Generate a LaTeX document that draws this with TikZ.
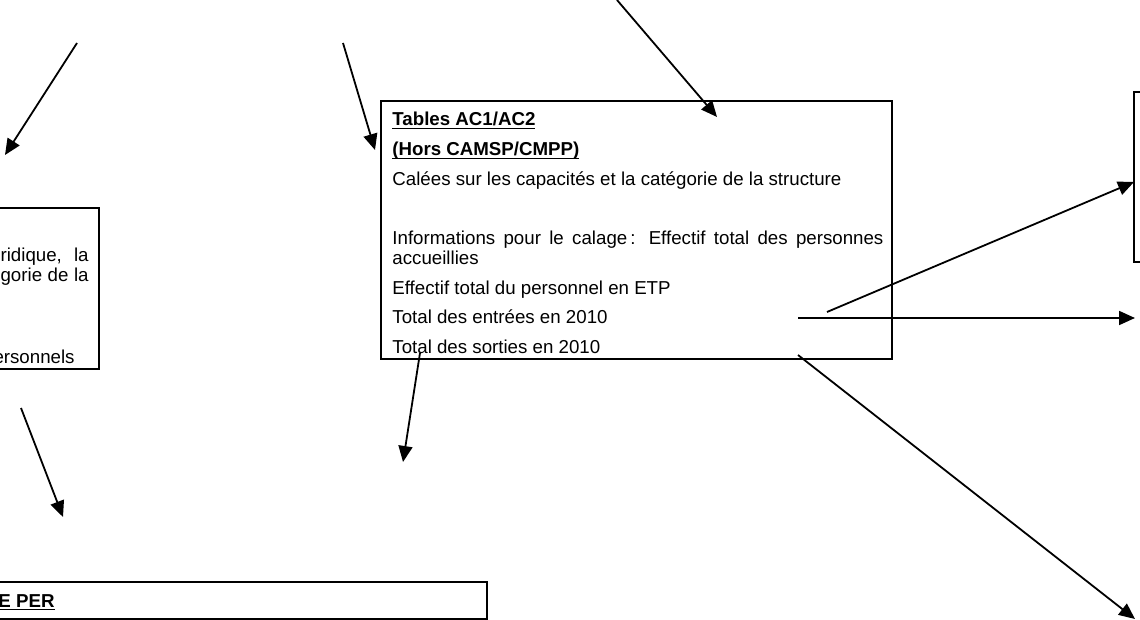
\documentclass[tikz,border=0pt]{standalone}
\usepackage{fontspec}
\setmainfont{Liberation Sans}
\usetikzlibrary{arrows.meta}

\newcommand{\ulbf}[1]{\leavevmode\setbox0\hbox{\bfseries #1}\rlap{\rule[-1.6pt]{\wd0}{0.6pt}}\box0}

\begin{document}
\begin{tikzpicture}[
    x=0.5pt, y=-0.5pt,
    box/.style={rectangle, draw=black, line width=1.1pt, inner sep=0pt},
    txt/.style={inner sep=0pt, font=\fontsize{9.35}{10}\selectfont},
    arrow/.style={-{Triangle[length=8pt, width=7pt]}, line width=0.9pt, draw=black}
]
\useasboundingbox (0,0) rectangle (1140,620);
\clip (0,0) rectangle (1140,620);

% boxes
\node (acbox) [box, minimum width=255.5pt, minimum height=129pt] at (636.5,230) {};
\node (leftbox) [box, minimum width=129.5pt, minimum height=80.5pt] at (-30.5,288.5) {};
\node (perbox) [box, minimum width=393.5pt, minimum height=18.5pt] at (93.5,600.5) {};
\node (rbox) [box, minimum width=83pt, minimum height=85pt] at (1217,177) {};

% texts
\node (actext) [txt, text width=245.5pt, align=justify, anchor=base west] at (392,126) {%
\setlength{\parskip}{4.8pt}\hyphenpenalty=10000 \tolerance=9999
\ulbf{Tables AC1/AC2}\par
\ulbf{(Hors CAMSP/CMPP)}\par
Calées sur les capacités et la catégorie de la structure\par
\vspace{15pt}Informations pour le calage\,: Effectif total des personnes accueillies\par
Effectif total du personnel en ETP\par
Total des entrées en 2010\par
Total des sorties en 2010};
\node (jurid) [txt, anchor=base east] at (89,262) {\makebox[44pt][s]{ridique, la}};
\node (categ) [txt, anchor=base east] at (89,281) {\makebox[44pt][s]{gorie de la}};
\node (perso) [txt, anchor=base east] at (75,363) {ersonnels};
\node (pertitle) [txt, anchor=base east] at (55,607) {\ulbf{E PER}};

% arrow ends
\coordinate (s1) at (77,43);   \coordinate (t1) at (5,155);
\coordinate (s2) at (343,43);  \coordinate (t2) at (375,150);
\coordinate (s3) at (617,0);   \coordinate (t3) at (717,117);
\coordinate (s4) at (827,312); \coordinate (t4) at (1134,182);
\coordinate (s5) at (798,318); \coordinate (t5) at (1135,318);
\coordinate (s6) at (798,355); \coordinate (t6) at (1135,619);
\coordinate (s7) at (420,353); \coordinate (t7) at (403,462);
\coordinate (s8) at (21,408);  \coordinate (t8) at (63,517);

\draw [arrow] (s1) -- (t1);
\draw [arrow] (s2) -- (t2);
\draw [arrow] (s3) -- (t3);
\draw [arrow] (s4) -- (t4);
\draw [arrow] (s5) -- (t5);
\draw [arrow] (s6) -- (t6);
\draw [arrow] (s7) -- (t7);
\draw [arrow] (s8) -- (t8);
\end{tikzpicture}
\end{document}
